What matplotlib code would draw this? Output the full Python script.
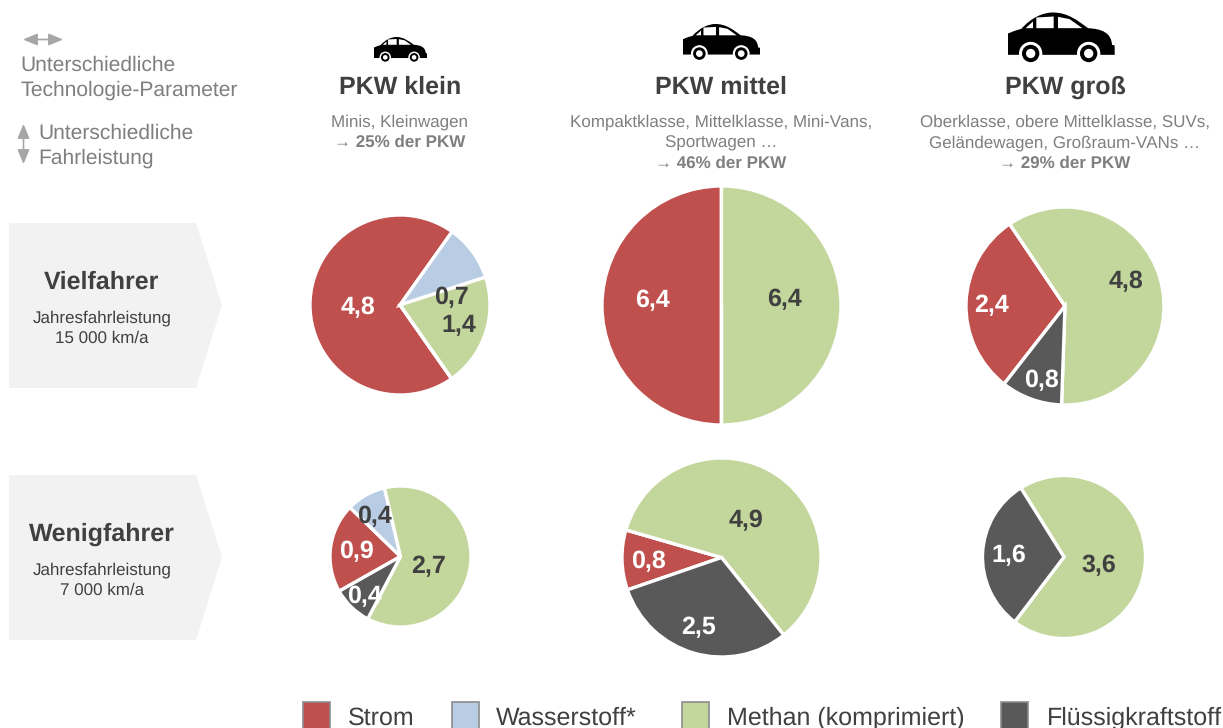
import matplotlib
matplotlib.use("Agg")
import matplotlib.pyplot as plt
from matplotlib.patches import Polygon, PathPatch, Circle, Rectangle
from matplotlib.path import Path

plt.rcParams['font.family'] = ['Liberation Sans', 'DejaVu Sans']
plt.rcParams['text.hinting'] = 'none'
plt.rcParams['text.hinting_factor'] = 1

W, H = 1223, 728

fuels = ["Strom", "Wasserstoff*", "Methan (komprimiert)", "Flüssigkraftstoff"]
colors = ["#C0504D", "#B8CCE4", "#C3D69B", "#595959"]

vielfahrer_klein = [4.8, 0.7, 1.4, 0]
vielfahrer_mittel = [6.4, 0, 6.4, 0]
vielfahrer_gross = [2.4, 0, 4.8, 0.8]
wenigfahrer_klein = [0.9, 0.4, 2.7, 0.4]
wenigfahrer_mittel = [0.8, 0, 4.9, 2.5]
wenigfahrer_gross = [0, 0, 3.6, 1.6]

classes = ["PKW klein", "PKW mittel", "PKW groß"]

DARK = "#404040"
GRAY = "#7F7F7F"
ARROW = "#A6A6A6"
DY = 1.5  # baseline correction for centred text

fig = plt.figure(figsize=(W / 100, H / 100), dpi=100, facecolor="white")
ov = fig.add_axes([0, 0, 1, 1], zorder=5)
ov.set_xlim(0, W)
ov.set_ylim(H, 0)
ov.axis("off")
ov.patch.set_alpha(0)

pies = [
    (vielfahrer_klein, 400, 305, 90, -55, [(358, 306), (451, 296), (459, 324), None]),
    (vielfahrer_mittel, 721.5, 305.5, 119.5, -90, [(652, 299), None, (784, 298), None]),
    (vielfahrer_gross, 1065, 306, 99, -128, [(992, 304), None, (1126, 280), (1041, 379)]),
    (wenigfahrer_klein, 400.5, 556.5, 70.5, -150.5, [(356, 550), (374, 515), (429, 565), (364, 595)]),
    (wenigfahrer_mittel, 721.5, 557.5, 99.5, 199, [(648, 560), None, (746, 519), (699, 626)]),
    (wenigfahrer_gross, 1064, 557, 81.5, 122, [None, None, (1099, 564), (1009, 554)]),
]
light_on = {0, 3}
for vals, cx, cy, r, start, lpos in pies:
    pad = r + 3
    ax = fig.add_axes([(cx - pad) / W, 1 - (cy + pad) / H, 2 * pad / W, 2 * pad / H], zorder=2)
    ax.pie(vals, colors=colors, startangle=start, counterclock=False, radius=r,
           wedgeprops=dict(edgecolor="white", linewidth=2.4))
    ax.set_xlim(-pad, pad)
    ax.set_ylim(-pad, pad)
    for i, p in enumerate(lpos):
        if p is not None:
            c = "white" if i in light_on else DARK
            ov.text(p[0], p[1] + DY, f"{vals[i]:.1f}".replace(".", ","), color=c, fontsize=18,
                    fontweight="bold", ha="center", va="center")


def car(x0, y0, s):
    P = lambda x, y: (x0 + (x - 55) * s, y0 + (y - 15) * s)
    verts = [P(55, 142), P(55, 78), P(75, 70), P(95, 64),
             P(125, 30), P(160, 15), P(190, 15),
             P(235, 15), P(265, 40), P(295, 62),
             P(335, 64), P(365, 75), P(367, 112),
             P(375, 114), P(375, 142), P(55, 142)]
    codes = [Path.MOVETO, Path.LINETO, Path.LINETO, Path.LINETO,
             Path.CURVE4, Path.CURVE4, Path.CURVE4,
             Path.CURVE4, Path.CURVE4, Path.CURVE4,
             Path.CURVE4, Path.CURVE4, Path.CURVE4,
             Path.LINETO, Path.LINETO, Path.CLOSEPOLY]
    ov.add_patch(PathPatch(Path(verts, codes), fc="black", ec="none"))
    for win in ([(108, 62), (130, 42), (130, 62)],
                [(140, 62), (140, 30), (192, 27), (192, 62)],
                [(205, 62), (205, 28), (240, 35), (278, 62)]):
        ov.add_patch(Polygon([P(*q) for q in win], fc="white", ec="none"))
    for wx in (123, 297):
        c = P(wx, 138)
        ov.add_patch(Circle(c, 35 * s, fc="white", ec="none"))
        ov.add_patch(Circle(c, 26 * s, fc="black", ec="none"))
        ov.add_patch(Circle(c, 14 * s, fc="white", ec="none"))


car(1008, 12.5, 1 / 3)
car(683, 24, 77 / 320)
car(374, 37, 53 / 320)

for x, t in zip([400, 721, 1065], classes):
    ov.text(x, 86 + DY - 0.5, t, color=DARK, fontsize=17.9, fontweight="bold", ha="center", va="center")

sub = [(400, [("Minis, Kleinwagen", False), ("→ 25% der PKW", True)], 122),
       (721, [("Kompaktklasse, Mittelklasse, Mini-Vans,", False), ("Sportwagen …", False),
              ("→ 46% der PKW", True)], 122),
       (1065, [("Oberklasse, obere Mittelklasse, SUVs,", False), ("Geländewagen, Großraum-VANs …", False),
               ("→ 29% der PKW", True)], 122)]
for x, lines, y in sub:
    for i, (t, b) in enumerate(lines):
        ov.text(x, y + i * 20.3 + 0.5, t, color=GRAY, fontsize=11.9, ha="center", va="center",
                fontweight="bold" if b else "normal")

ov.text(20.5, 64 + DY, "Unterschiedliche", color=GRAY, fontsize=15.3, ha="left", va="center")
ov.text(20.5, 89 + DY, "Technologie-Parameter", color=GRAY, fontsize=15.3, ha="left", va="center")
ov.text(38.5, 132 + DY, "Unterschiedliche", color=GRAY, fontsize=15.3, ha="left", va="center")
ov.text(38.5, 157 + DY, "Fahrleistung", color=GRAY, fontsize=15.3, ha="left", va="center")
head = dict(arrowstyle="<|-|>,head_length=0.86,head_width=0.36", color=ARROW, lw=1.2, shrinkA=0, shrinkB=0)
ov.annotate("", xy=(23, 39.5), xytext=(63, 39.5), arrowprops=head)
ov.annotate("", xy=(23.5, 124), xytext=(23.5, 164), arrowprops=head)

rows = [(223, "Vielfahrer", "15 000 km/a"), (475, "Wenigfahrer", "7 000 km/a")]
for top, name, km in rows:
    ov.add_patch(Polygon([(9, top), (196, top), (222, top + 82), (196, top + 165), (9, top + 165)],
                         fc="#F2F2F2", ec="none", zorder=0))
    ov.text(102, top + 58 + 1, name, color=DARK, fontsize=18.2, fontweight="bold", ha="center", va="center")
    ov.text(102, top + 95 + 0.5, "Jahresfahrleistung", color=DARK, fontsize=12.2, ha="center", va="center")
    ov.text(102, top + 115 + 0.5, km, color=DARK, fontsize=12.2, ha="center", va="center")

for x, tx, c, t in zip([303, 452, 682, 1001], [348, 496, 727, 1047], colors, fuels):
    ov.add_patch(Rectangle((x, 702), 27, 30, fc=c, ec="#8C8C8C", lw=1.2, clip_on=True))
    ov.text(tx, 717 + DY, t, color=DARK, fontsize=18.2, ha="left", va="center")

fig.savefig("out.png", dpi=100)
